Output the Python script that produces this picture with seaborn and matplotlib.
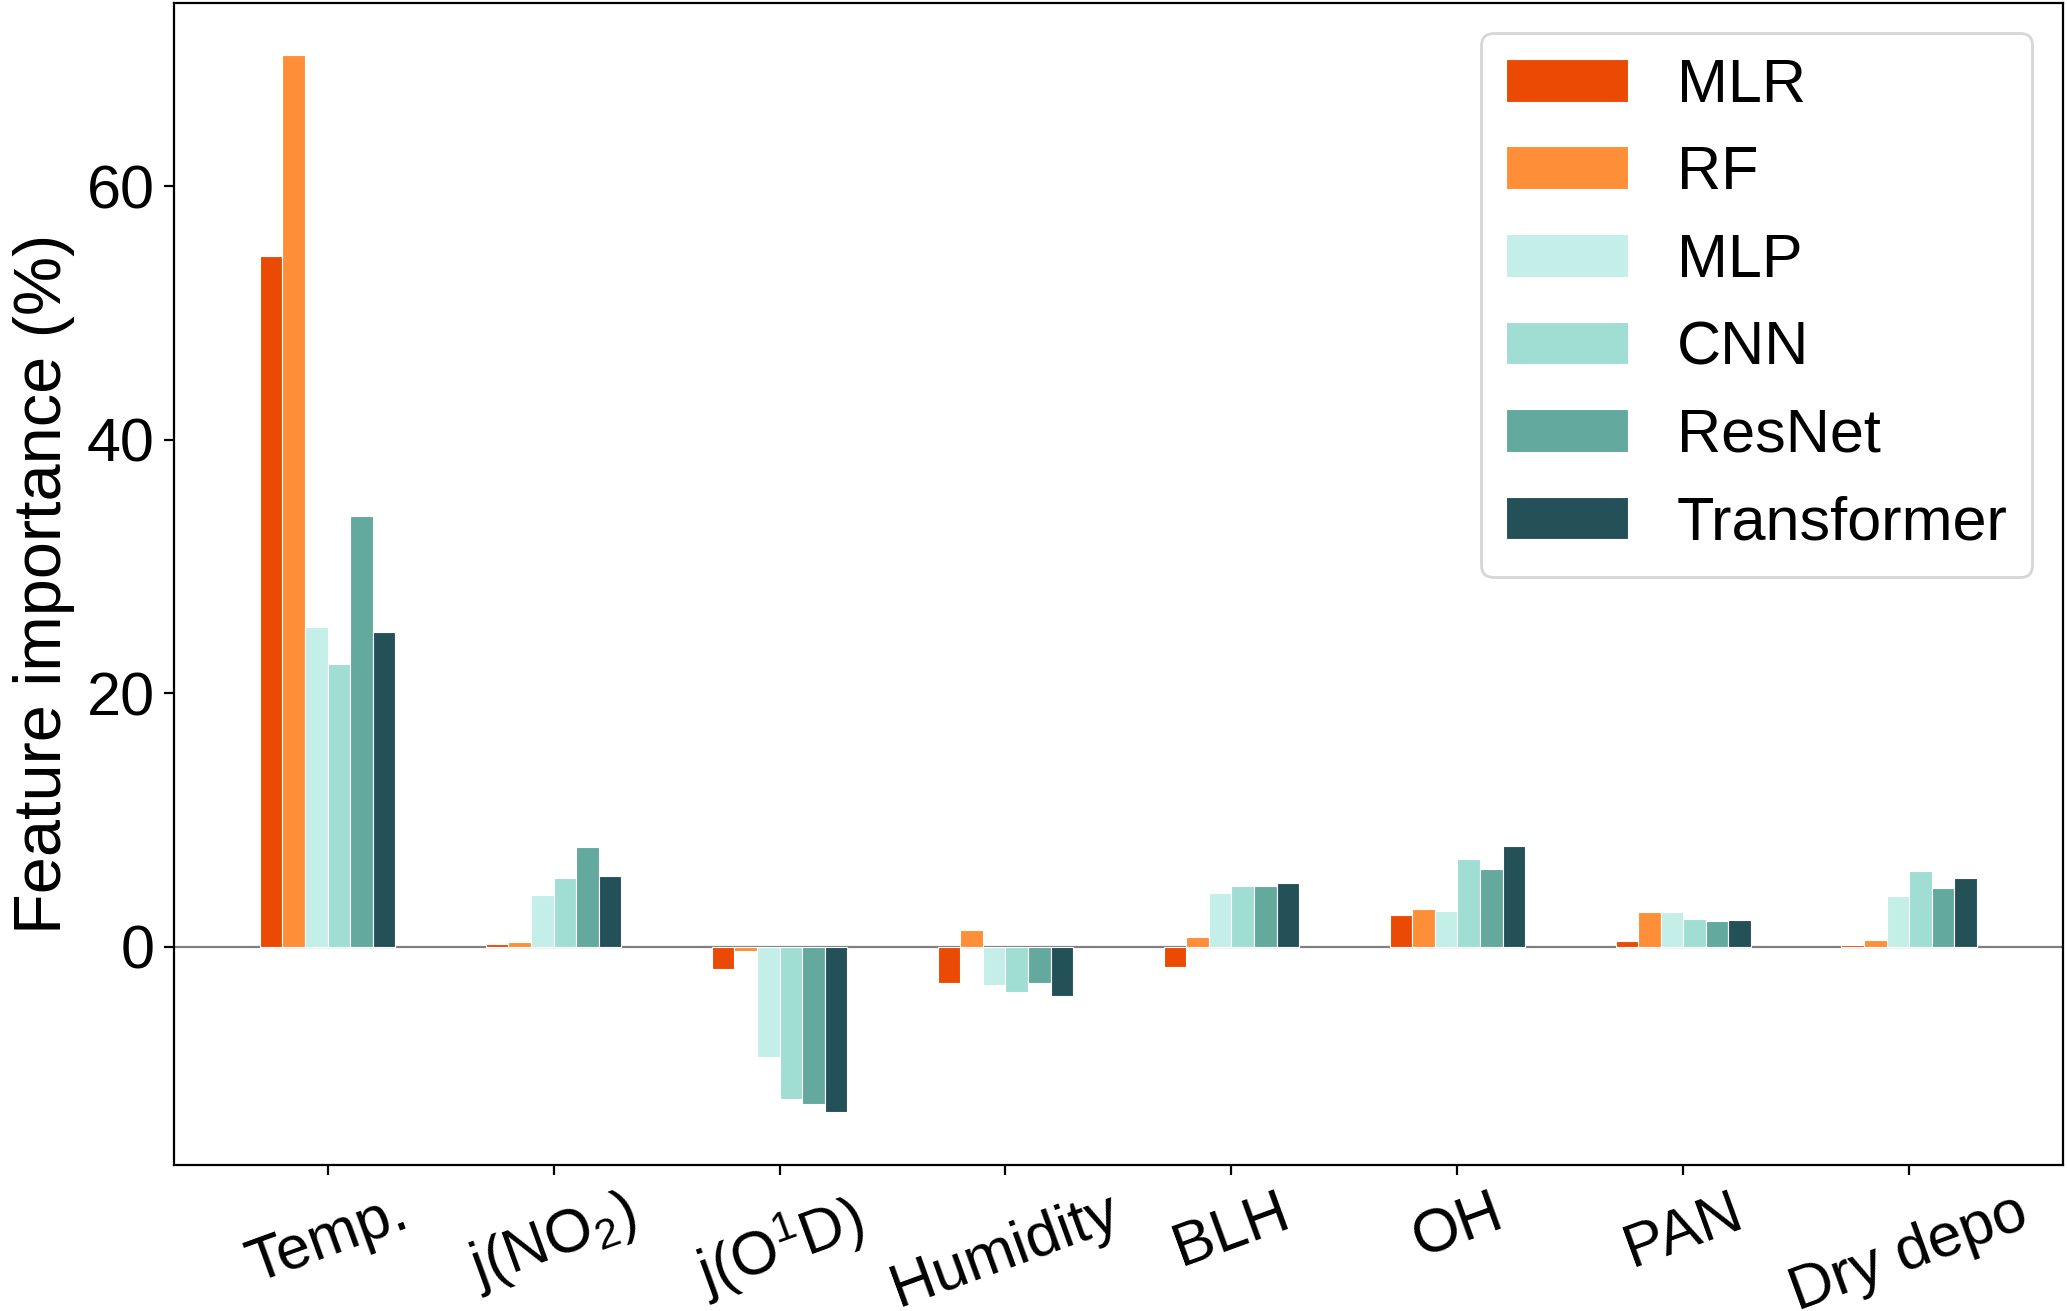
import pandas as pd
import seaborn as sns
import matplotlib.pyplot as plt

# dados
features = ['Temp.', 'j(NO$_2$)', 'j(O$^1$D)', 'Humidity', 'BLH', 'OH', 'PAN', 'Dry depo']
models = ['MLR', 'RF', 'MLP', 'CNN', 'ResNet', 'Transformer']

mlr = [54.5, 0.2, -1.8, -2.9, -1.6, 2.5, 0.45, 0.15]
rf = [70.3, 0.4, -0.35, 1.35, 0.8, 3.0, 2.7, 0.5]
mlp = [25.2, 4.1, -8.7, -3.0, 4.25, 2.85, 2.75, 4.0]
cnn = [22.3, 5.4, -12.0, -3.6, 4.8, 6.9, 2.2, 6.0]
resnet = [34.0, 7.85, -12.4, -2.9, 4.75, 6.15, 2.05, 4.6]
transformer = [24.8, 5.55, -13.05, -3.9, 5.0, 7.95, 2.1, 5.4]

colors = ['#EB4A05', '#FF8E38', '#C4EFE9', '#A0DDD2', '#64A99E', '#245058']

values = [mlr, rf, mlp, cnn, resnet, transformer]
df = pd.DataFrame({
    'feature': features * len(models),
    'model': [m for m in models for _ in features],
    'importance': [v for serie in values for v in serie],
})

plt.rcParams['font.family'] = ['Liberation Sans', 'DejaVu Sans']
plt.rcParams['mathtext.default'] = 'regular'

fig = plt.figure(figsize=(10.335, 6.555), dpi=200)
ax = fig.add_axes([0.0842, 0.1114, 0.9138, 0.8866])

sns.barplot(data=df, x='feature', y='importance', hue='model', order=features,
            hue_order=models, palette=colors, saturation=1, width=0.6, gap=0,
            errorbar=None, edgecolor='white', linewidth=0.4, ax=ax)

ax.axhline(0, color='grey', lw=0.8, zorder=0)
ax.set_xlim(-0.68, 7.68)
ax.margins(y=0.05)
ax.set_xlabel('')
ax.set_ylabel('Feature importance (%)', fontsize=24)
ax.tick_params(axis='both', labelsize=22)
ax.set_yticks([0, 20, 40, 60])
plt.setp(ax.get_xticklabels(), rotation=20)

sns.move_legend(ax, 'upper right', title=None, fontsize=22, frameon=True)

fig.savefig('out.png', dpi=200)
